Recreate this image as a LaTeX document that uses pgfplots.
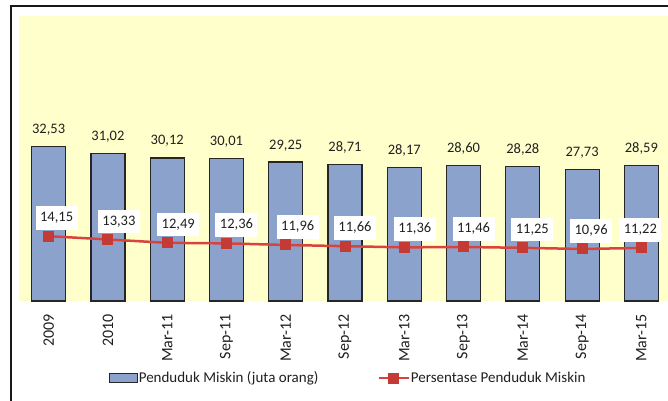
\documentclass[border=0pt]{standalone}
\usepackage{pgfplots}
\pgfplotsset{compat=1.18}
\usepackage{pgfplotstable}
\usepackage{fontspec}
\setmainfont{Carlito}
\definecolor{bgy}{HTML}{FFFFCC}
\definecolor{barc}{HTML}{8BA3CC}
\definecolor{linec}{HTML}{D9433D}
\definecolor{markc}{HTML}{C43A34}
\definecolor{txt}{HTML}{202020}

\pgfplotstableread{
x y
0 32.53
1 31.02
2 30.12
3 30.01
4 29.25
5 28.71
6 28.17
7 28.60
8 28.28
9 27.73
10 28.59
}\bars

\pgfplotstableread{
x y dx
0 14.15 8
1 13.33 11
2 12.49 11
3 12.36 10
4 11.96 12
5 11.66 10
6 11.36 10.5
7 11.46 10
8 11.25 9.5
9 10.96 9
10 11.22 -1
}\pct

\begin{document}
\begin{tikzpicture}[x=1pt,y=1pt]
\useasboundingbox (0,0) rectangle (668,400);
\clip (0,0) rectangle (668,400);
\fill[white] (0,0) rectangle (668,400);
\draw[black!90, line width=1.5pt] (11,-10) -- (11,394) -- (690,394);

\begin{axis}[
  at={(19pt,99pt)}, anchor=south west,
  width=652pt, height=285pt, scale only axis,
  xmin=-0.5, xmax=10.5, ymin=0, ymax=60,
  axis background/.style={fill=bgy},
  axis line style={draw=none},
  ytick=\empty,
  xtick=data,
  xticklabels={2009,2010,Mar-11,Sep-11,Mar-12,Sep-12,Mar-13,Sep-13,Mar-14,Sep-14,Mar-15},
  major tick length=0pt,
  xticklabel style={rotate=90, anchor=east, inner sep=0pt, font=\fontsize{16}{19}\selectfont, text=txt},
  xticklabel shift=13pt,
  /pgf/number format/assume math mode=true,
  /pgf/number format/.cd, use comma, fixed, fixed zerofill, precision=2, 1000 sep={},
  /pgfplots/.cd,
  legend style={at={(0.504,-0.270)}, anchor=center, draw=none, fill=none,
    font=\fontsize{15}{18}\selectfont, text=txt,
    nodes={inner sep=1pt},
    /tikz/every even column/.append style={column sep=58pt}},
  legend columns=2,
  legend cell align=left,
]
\addplot[ybar, bar width=34pt, fill=barc, draw=black!85, line width=1.2pt,
  nodes near coords,
  nodes near coords style={font=\fontsize{14.5}{17}\selectfont, text=txt, anchor=south,
     inner sep=0pt, text depth=0pt, yshift=12.4pt},
  legend image code/.code={\draw[fill=barc, draw=black!85, line width=1pt] (0pt,-4.5pt) rectangle (28pt,4.5pt);}
] table[x=x, y=y] {\bars};
\addlegendentry{Penduduk Miskin (juta orang)}
\addlegendimage{legend image code/.code={\draw[linec, line width=2.5pt] (0pt,0pt) -- (30pt,0pt); \fill[markc] (10pt,-5pt) rectangle (20pt,5pt);}}
\addlegendentry{Persentase Penduduk Miskin}
\end{axis}

\begin{axis}[
  at={(19pt,99pt)}, anchor=south west,
  width=652pt, height=285pt, scale only axis,
  xmin=-0.5, xmax=10.5, ymin=-2, ymax=69,
  hide axis,
  /pgf/number format/assume math mode=true,
  /pgf/number format/.cd, use comma, fixed, fixed zerofill, precision=2, 1000 sep={},
  /pgfplots/.cd,
]
\addplot[linec, line width=2.5pt, mark=square*, mark size=5pt,
  mark options={fill=markc, draw=markc, line width=0pt},
  visualization depends on={\thisrow{dx} \as \dx},
  nodes near coords,
  nodes near coords style={fill=white, font=\fontsize{14.5}{17}\selectfont, text=txt, anchor=south,
     inner xsep=4.5pt, inner ysep=6pt, text height=9.5pt, text depth=2pt,
     yshift=6.4pt, xshift=\dx pt}
] table[x=x, y=y] {\pct};
\end{axis}
\end{tikzpicture}
\end{document}
